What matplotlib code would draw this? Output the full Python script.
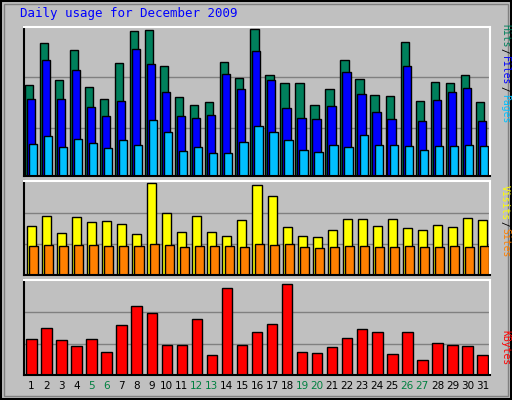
import matplotlib
matplotlib.use("Agg")
import matplotlib.pyplot as plt
import numpy as np

days = list(range(1, 32))
weekend = [5, 6, 12, 13, 19, 20, 26, 27]
hits = [91, 133, 96, 126, 89, 77, 113, 145, 146, 110, 79, 71, 74, 114, 98, 147, 101, 93, 93, 71, 87, 116, 97, 81, 80, 134, 75, 94, 93, 101, 74]
files = [77, 116, 77, 106, 69, 60, 75, 127, 112, 84, 60, 58, 61, 102, 87, 125, 96, 68, 58, 57, 70, 104, 82, 64, 57, 110, 55, 76, 84, 88, 55]
pages = [32, 40, 29, 37, 33, 28, 36, 31, 56, 44, 25, 29, 23, 23, 34, 50, 44, 36, 26, 24, 31, 29, 41, 31, 31, 30, 26, 30, 30, 31, 30]
visits = [49, 59, 42, 58, 53, 54, 51, 41, 92, 62, 43, 59, 43, 39, 55, 90, 79, 48, 39, 38, 45, 56, 56, 49, 56, 47, 45, 50, 48, 57, 55]
sites = [29, 30, 29, 30, 30, 29, 29, 29, 31, 30, 28, 29, 29, 29, 28, 31, 30, 31, 28, 27, 28, 29, 29, 28, 28, 29, 28, 28, 29, 28, 29]
kbytes = [36, 47, 35, 29, 36, 23, 50, 69, 62, 30, 30, 56, 20, 87, 30, 43, 51, 91, 23, 22, 28, 37, 46, 43, 21, 43, 15, 32, 30, 29, 20]

BG = "#c0c0c0"
fig = plt.figure(figsize=(5.12, 4.0), dpi=100, facecolor=BG)
fig.patches.append(plt.Rectangle((0.002, 0.003), 0.996, 0.994, transform=fig.transFigure,
                                 fill=False, edgecolor="black", lw=1.5))
fig.patches.append(plt.Rectangle((0.008, 0.01), 0.984, 0.98, transform=fig.transFigure,
                                 fill=False, edgecolor="#808080", lw=1))
W, H = 512, 400
def panel(top, bot):
    return fig.add_axes([24 / W, 1 - bot / H, 466 / W, (bot - top) / H])

x = np.array(days, dtype=float)
ax1 = panel(27, 176)
ax2 = panel(181, 275)
ax3 = panel(280, 375)
for ax, ymax, grid in [(ax1, 149, [48, 99]), (ax2, 94, [31, 62]), (ax3, 95, [31, 63])]:
    ax.set_facecolor(BG)
    ax.set_xlim(0.5, 31.5)
    ax.set_ylim(0, ymax)
    for g in grid:
        ax.axhline(g, color="#808080", lw=1, zorder=0)
    ax.set_xticks([]); ax.set_yticks([])
    for s in ["left", "bottom"]:
        ax.spines[s].set_color("black")
    for s in ["top", "right"]:
        ax.spines[s].set_color("white")
    for s in ax.spines.values():
        s.set_linewidth(1.5)

kw = dict(edgecolor="black", linewidth=1, align="edge")
ax1.bar(x - 0.45, hits, width=0.55, color="#00805c", **kw)
ax1.bar(x - 0.32, files, width=0.55, color="#0000ff", **kw)
ax1.bar(x - 0.18, pages, width=0.55, color="#00c0ff", **kw)
ax2.bar(x - 0.3, visits, width=0.6, color="#ffff00", **kw)
ax2.bar(x - 0.15, sites, width=0.6, color="#ff8000", **kw)
ax3.bar(x - 0.35, kbytes, width=0.7, color="#ff0000", **kw)

for d in days:
    fig.text((24 + (d - 0.5) * 466 / 31) / W, 1 - 386 / H, str(d), ha="center", va="center",
             fontsize=7.5, family="DejaVu Sans",
             color="#008040" if d in weekend else "black")

fig.text(20 / W, 1 - 14 / H, "Daily usage for December 2009", color="#0000ff",
         fontsize=9, family="DejaVu Sans Mono", va="center")

def vlabel(parts, y0):
    y = y0
    for txt, col in parts:
        fig.text(505 / W, 1 - y / H, txt, color=col, rotation=270, fontsize=7,
                 family="DejaVu Sans Mono", ha="center", va="top")
        y += len(txt) * 5.6 + 2
vlabel([("Hits", "#00805c"), ("/", "black"), ("Files", "#0000ff"), ("/", "black"), ("Pages", "#00c0ff")], 24)
vlabel([("Visits", "#ffff00"), ("/", "black"), ("Sites", "#ff8000")], 185)
vlabel([("KBytes", "#ff0000")], 330)

fig.savefig("out.png", dpi=100, facecolor=BG)
